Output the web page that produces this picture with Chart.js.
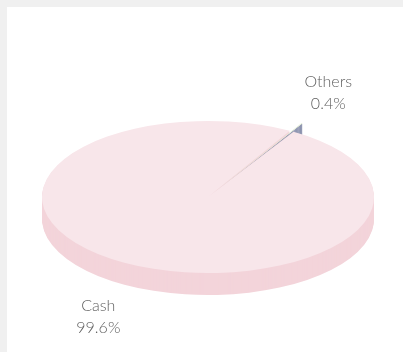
<!DOCTYPE html>
<html>
<head>
<meta charset="utf-8">
<script src="https://cdn.jsdelivr.net/npm/chart.js@4.4.1/dist/chart.umd.min.js"></script>
<style>
  html, body { margin: 0; padding: 0; width: 403px; height: 352px; overflow: hidden; background: #f0f0f0; }
  #panel { position: absolute; left: 7px; top: 7px; width: 396px; height: 345px; background: #ffffff; }
  #panel canvas { display: block; }
</style>
</head>
<body>
<div id="panel"><canvas id="chart"></canvas></div>
<script>
// Allocation shares (percent of total)
const categories = ['Cash', 'Others'];
const shares = [99.6, 0.4];

// Face colours of the tilted pie: lit top and shaded rim
const topColors = ['#f8e6ea', '#e2ecd4'];
const sideColors = ['#f3d4da', '#7b82a3'];
const explode = [0, 42];

const TILT = 0.458;   // vertical squash of the disc
const DEPTH = 22;     // rim thickness in pixels

const pie3d = {
  id: 'pie3d',
  beforeDatasetDraw() {
    return false; // the flat disc is replaced by the tilted one below
  },
  afterDatasetsDraw(chart) {
    const ctx = chart.ctx;
    const arcs = chart.getDatasetMeta(0).data;
    const cx = arcs[0].x, cy = arcs[0].y;

    const paint = (arc, dy, color) => {
      const base = arc.options;
      ctx.save();
      ctx.translate(0, dy);
      ctx.translate(cx, cy);
      ctx.scale(1, TILT);
      ctx.translate(-cx, -cy);
      arc.options = Object.assign({}, base, { backgroundColor: color, borderWidth: 0 });
      arc.draw(ctx);
      arc.options = base;
      ctx.restore();
    };

    // rims first, swept downward, then the top faces
    for (let k = DEPTH; k >= 1; k--) paint(arcs[0], k, sideColors[0]);
    for (let k = DEPTH; k >= 1; k--) paint(arcs[1], k, sideColors[1]);
    arcs.forEach((arc, i) => paint(arc, 0, topColors[i]));

    // category and share labels outside each slice
    ctx.save();
    ctx.font = '300 16px Lato, "Open Sans", sans-serif';
    ctx.fillStyle = '#5f5f5f';
    ctx.textAlign = 'center';
    ctx.textBaseline = 'alphabetic';
    arcs.forEach((arc, i) => {
      const mid = (arc.startAngle + arc.endAngle) / 2;
      const ux = Math.cos(mid), uy = Math.sin(mid);
      const reach = arc.outerRadius + (arc.options.offset || 0) / 2;
      const ax = cx + ux * reach;
      let ay = cy + uy * reach * TILT;
      if (uy > 0) ay += DEPTH;
      const len = Math.hypot(ux, uy * TILT);
      const lx = ax + (ux / len) * 33;
      const ly = ay + (uy * TILT / len) * 50;
      ctx.fillText(categories[i], lx, ly - 5);
      ctx.fillText(shares[i].toFixed(1) + '%', lx, ly + 17);
    });
    ctx.restore();
  }
};

new Chart(document.getElementById('chart'), {
  type: 'pie',
  data: {
    labels: categories,
    datasets: [{
      data: shares,
      backgroundColor: topColors,
      borderWidth: 0,
      offset: explode
    }]
  },
  options: {
    responsive: true,
    maintainAspectRatio: false,
    animation: false,
    events: [],
    rotation: 31,
    radius: 166,
    layout: { padding: { left: 6, right: 0, top: 35, bottom: 0 } },
    plugins: {
      legend: { display: false },
      tooltip: { enabled: false }
    }
  },
  plugins: [pie3d]
});
</script>
</body>
</html>
